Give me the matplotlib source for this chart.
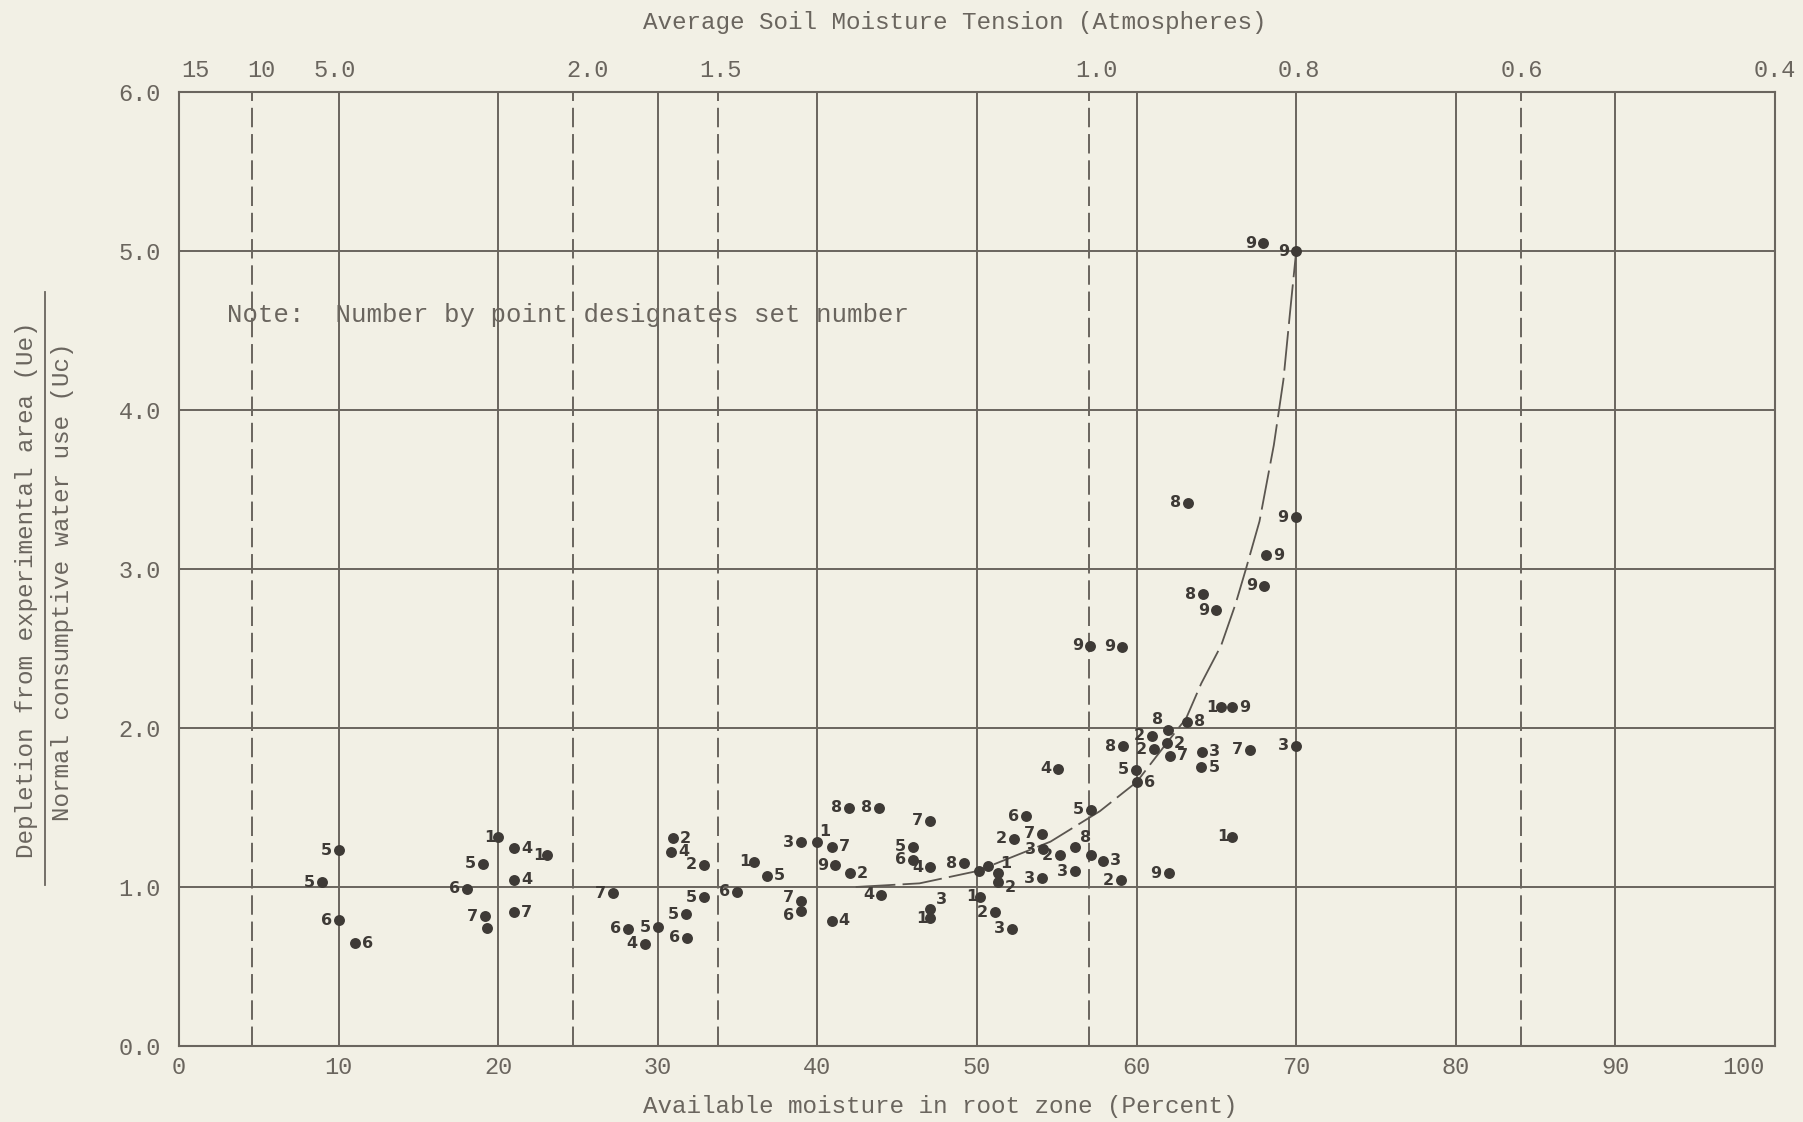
import matplotlib
matplotlib.use("Agg")
import matplotlib.pyplot as plt
from matplotlib.lines import Line2D
from matplotlib.transforms import ScaledTranslation
import numpy as np

# available moisture in root zone (%), depletion ratio Ue/Uc, set number by point
moisture = [8.96, 10.0, 10.0, 11.04, 18.03, 19.07, 19.2, 19.3, 20.0, 21.0,
            21.0, 21.0, 23.07, 27.2, 28.15, 29.19, 30.0, 30.93, 30.83, 32.9,
            32.9, 31.76, 31.86, 34.98, 36.0, 36.85, 38.98, 38.98, 38.98, 40.0,
            40.9, 41.1, 42.06, 43.98, 40.9, 41.96, 43.87, 47.06, 46.0, 46.0,
            47.06, 49.2, 47.06, 47.06, 50.1, 50.7, 51.3, 51.3, 50.2, 51.1,
            52.2, 54.06, 56.12, 54.16, 55.2, 56.12, 57.15, 57.9, 59.0, 62.0,
            65.95, 52.3, 54.06, 53.08, 57.15, 55.08, 59.15, 59.96, 60.04, 61.08,
            61.9, 62.1, 64.1, 64.06, 67.1, 70.0, 60.98, 61.98, 63.17, 65.26,
            66.0, 63.2, 69.96, 68.1, 67.99, 64.15, 64.98, 57.1, 59.07, 67.94,
            70.0]
ratio = [1.03, 1.23, 0.79, 0.645, 0.99, 1.146, 0.815, 0.745, 1.313, 1.244,
         1.046, 0.84, 1.20, 0.962, 0.737, 0.643, 0.747, 1.307, 1.223, 1.14,
         0.935, 0.83, 0.68, 0.97, 1.16, 1.07, 0.915, 0.85, 1.28, 1.285,
         1.253, 1.138, 1.086, 0.95, 0.787, 1.5, 1.5, 1.416, 1.253, 1.17,
         1.123, 1.149, 0.862, 0.803, 1.10, 1.135, 1.085, 1.03, 0.94, 0.84,
         0.736, 1.054, 1.10, 1.238, 1.20, 1.253, 1.20, 1.165, 1.043, 1.088,
         1.315, 1.303, 1.336, 1.445, 1.487, 1.745, 1.885, 1.738, 1.658, 1.866,
         1.905, 1.825, 1.852, 1.752, 1.863, 1.889, 1.95, 1.99, 2.04, 2.13,
         2.13, 3.417, 3.326, 3.088, 2.895, 2.842, 2.74, 2.516, 2.51, 5.048,
         5.0]
set_tag = ["5", "5", "6", "6", "6", "5", "7", "", "1", "4",
           "4", "7", "1", "7", "6", "4", "5", "2", "4", "2",
           "5", "5", "6", "6", "1", "5", "7", "6", "3", "1",
           "7", "9", "2", "4", "4", "8", "8", "7", "5", "6",
           "4", "8", "3", "1", "", "", "1", "2", "1", "2",
           "3", "3", "3", "3", "2", "8", "", "3", "2", "9",
           "1", "2", "7", "6", "5", "4", "8", "5", "6", "2",
           "2", "7", "3", "5", "7", "3", "2", "8", "8", "1",
           "9", "8", "9", "9", "9", "8", "9", "9", "9", "9",
           "9"]
tag_side = ["l", "l", "l", "r", "l", "l", "l", "l", "l", "r",
            "r", "r", "l", "l", "l", "l", "l", "r", "r", "l",
            "l", "l", "l", "l", "l", "r", "lu", "ld", "l", "u",
            "r", "l", "r", "l", "r", "l", "l", "l", "l", "l",
            "l", "l", "u", "l", "l", "l", "u", "d", "l", "l",
            "l", "l", "l", "l", "l", "u", "l", "r", "l", "l",
            "l", "l", "l", "l", "l", "l", "l", "l", "r", "l",
            "r", "r", "r", "r", "l", "l", "l", "ul", "r", "l",
            "r", "l", "l", "r", "l", "l", "l", "l", "l", "l",
            "l"]

# freehand trend curve
curve_x = [42.4, 46.4, 50.0, 54.6, 57.7, 60.0, 62.0, 63.1, 64.05, 65.3,
           66.2, 66.85, 67.7, 68.6, 69.2, 69.6, 69.85, 70.0]
curve_y = [1.0, 1.023, 1.10, 1.285, 1.477, 1.66, 1.92, 2.06, 2.28, 2.52,
           2.78, 3.0, 3.3, 3.78, 4.19, 4.6, 4.85, 5.0]

# soil moisture tension scale (atmospheres) along the top
tension_pos = [0, 4.6, 10, 24.7, 33.8, 57.0, 70, 84.1, 100]
tension_lbl = ["15", "10", "5.0", "2.0", "1.5", "1.0", "0.8", "0.6", "0.4"]
tension_nudge = [16, 9, -4, 14, 2, 8, 3, 1, 0]   # px, typed off-centre
dashed_at = [4.6, 24.7, 33.8, 57.0, 84.1]

x_ticks = np.arange(0, 101, 10)
y_ticks = np.arange(0, 7, 1)

paper = "#f2f0e5"
ink = "#6a655e"
pen = "#3e3a36"
mono = "Liberation Mono"

W, H = 1803, 1122
fig = plt.figure(figsize=(W / 100, H / 100), dpi=100, facecolor=paper)
ax = fig.add_axes([179 / W, 1 - 1046 / H, (1775 - 179) / W, (1046 - 92) / H])
ax.set_facecolor(paper)
ax.set_xlim(0, 100)
ax.set_ylim(0, 6)

for s in ax.spines.values():
    s.set_color(ink)
    s.set_linewidth(1.5)

for xv in x_ticks[1:-1]:
    ax.axvline(xv, color=ink, lw=1.4, zorder=1)
for yv in y_ticks[1:-1]:
    ax.axhline(yv, color=ink, lw=1.4, zorder=1)
for xv in dashed_at:
    ax.axvline(xv, color=ink, lw=1.4, dashes=(10, 3.5), zorder=1)

ax.set_xticks(x_ticks)
ax.set_xticklabels([str(v) for v in x_ticks])
ax.set_yticks(y_ticks)
ax.set_yticklabels(["%.1f" % v for v in y_ticks])
ax.tick_params(length=0, labelcolor=ink, labelsize=17)
ax.tick_params(axis="x", pad=7)
ax.tick_params(axis="y", pad=13)
for lab in ax.get_xticklabels() + ax.get_yticklabels():
    lab.set_family(mono)
last = ax.get_xticklabels()[-1]
last.set_transform(last.get_transform() + ScaledTranslation(-0.32, 0, fig.dpi_scale_trans))

top = ax.secondary_xaxis("top")
top.set_xticks(tension_pos)
top.set_xticklabels(tension_lbl)
top.tick_params(length=0, labelcolor=ink, labelsize=17, pad=7)
top.spines["top"].set_visible(False)
for lab, dx in zip(top.get_xticklabels(), tension_nudge):
    lab.set_family(mono)
    lab.set_transform(lab.get_transform() + ScaledTranslation(dx / 100, 0, fig.dpi_scale_trans))

ax.plot(curve_x, curve_y, color="#5b5650", lw=1.3, dashes=(22, 4), zorder=2)

ax.scatter(moisture, ratio, s=62, color=pen, zorder=4, linewidths=0)
offsets = {"l": (-9, 0), "r": (9, 0), "u": (8, 7), "d": (9, -4), "ul": (-8, 7),
           "lu": (-9, 2.5), "ld": (-9, -3.5)}
for x, y, t, side in zip(moisture, ratio, set_tag, tag_side):
    if not t:
        continue
    dx, dy = offsets[side]
    if t == "1":
        dx *= 0.7
    ax.annotate(t, (x, y), xytext=(dx, dy), textcoords="offset points",
                ha="center", va="center", fontsize=11.5, fontweight="bold",
                color=pen, family="DejaVu Sans", zorder=5)

ax.text(3.0, 4.6, "Note:  Number by point designates set number", family=mono,
        fontsize=18.5, color=ink, ha="left", va="center")

fig.text(955 / W, 1 - 23 / H, "Average Soil Moisture Tension (Atmospheres)",
         family=mono, fontsize=17.5, color=ink, ha="center", va="center")
fig.text(940 / W, 1 - 1106 / H, "Available moisture in root zone (Percent)",
         family=mono, fontsize=17.5, color=ink, ha="center", va="center")

# stacked ratio label on the left
fig.text(27 / W, 1 - 590 / H, "Depletion from experimental area (Ue)", family=mono,
         fontsize=17.5, color=ink, rotation=90, ha="center", va="center")
fig.text(63 / W, 1 - 582 / H, "Normal consumptive water use (Uc)", family=mono,
         fontsize=17.5, color=ink, rotation=90, ha="center", va="center")
fig.add_artist(Line2D([45 / W, 45 / W], [1 - 885 / H, 1 - 292 / H],
                      transform=fig.transFigure, color=ink, lw=1.3))

fig.savefig("out.png", dpi=100, facecolor=paper)
